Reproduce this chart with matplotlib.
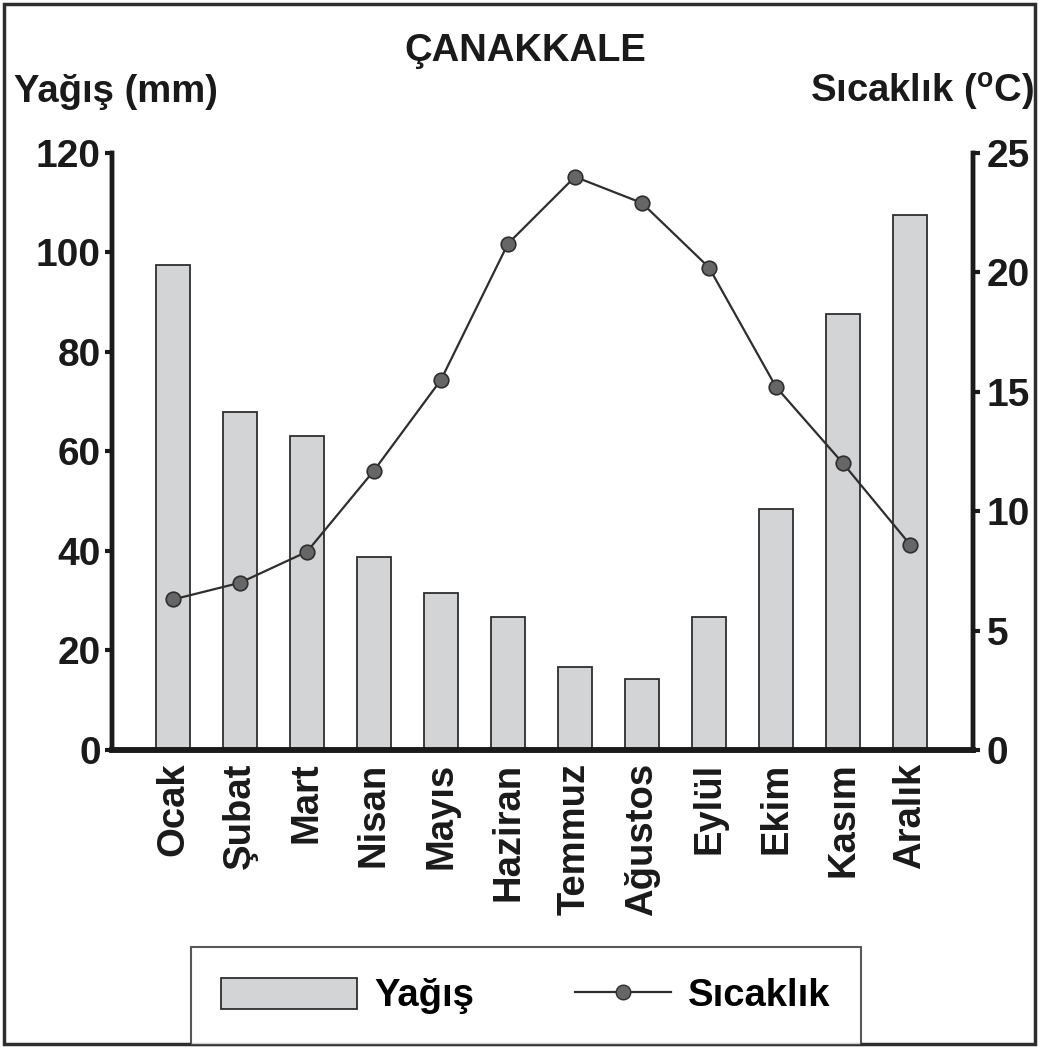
import matplotlib.pyplot as plt
import numpy as np
from matplotlib.patches import Rectangle
from matplotlib.lines import Line2D
from matplotlib.legend_handler import HandlerLine2D

# Data
months = ['Ocak', 'Şubat', 'Mart', 'Nisan', 'Mayıs', 'Haziran',
          'Temmuz', 'Ağustos', 'Eylül', 'Ekim', 'Kasım', 'Aralık']
rain_mm = [97.5, 68.0, 63.2, 38.8, 31.6, 26.7, 16.7, 14.2, 26.7, 48.4, 87.7, 107.5]
temp_c = [6.3, 7.0, 8.3, 11.7, 15.5, 21.2, 24.0, 22.9, 20.2, 15.2, 12.0, 8.6]
rain_ticks = [0, 20, 40, 60, 80, 100, 120]
temp_ticks = [0, 5, 10, 15, 20, 25]

plt.rcParams['font.family'] = ['Liberation Sans', 'DejaVu Sans']
plt.rcParams['font.weight'] = 'bold'
plt.rcParams['mathtext.fontset'] = 'custom'
plt.rcParams['mathtext.rm'] = 'Liberation Sans:bold'

ink = '#1a1a1a'
fs = 27.5
fig = plt.figure(figsize=(10.39, 10.48), dpi=100)
ax = fig.add_axes([0.1078, 0.2844, 0.8287, 0.5697])
ax2 = ax.twinx()

x = np.arange(len(months))
ax.bar(x, rain_mm, width=0.51, color='#d3d4d6', edgecolor='#2e2e2e', linewidth=1.3, zorder=2)
ax2.plot(x, temp_c, color='#2e2e2e', lw=1.6, marker='o', markersize=10.5,
         markerfacecolor='#666666', markeredgecolor='#2e2e2e', markeredgewidth=1.2, zorder=3)

ax.set_xlim(-0.91, 11.94)
ax.set_ylim(0, 120)
ax2.set_ylim(0, 25)
ax.set_yticks(rain_ticks)
ax2.set_yticks(temp_ticks)
ax.set_xticks(x)
ax.set_xticklabels(months, rotation=90, fontsize=fs, color=ink)

for a in (ax, ax2):
    a.spines['top'].set_visible(False)
    a.spines['left'].set_linewidth(3.2)
    a.spines['right'].set_linewidth(3.2)
    a.spines['bottom'].set_linewidth(4)
    for s in a.spines.values():
        s.set_color(ink)
ax.tick_params(axis='y', length=5, width=3, pad=3, labelsize=28, colors=ink)
ax2.tick_params(axis='y', length=5, width=3, pad=5, labelsize=28, colors=ink)
ax.tick_params(axis='x', length=0, pad=9)

fig.text(0.506, 0.951, 'ÇANAKKALE', ha='center', va='center', fontsize=fs, color=ink)
fig.text(0.013, 0.912, 'Yağış (mm)', ha='left', va='center', fontsize=fs, color=ink)
fig.text(0.995, 0.912, 'Sıcaklık ($^{\\mathrm{o}}$C)', ha='right', va='center', fontsize=fs, color=ink)

handles = [Rectangle((0, 0), 1, 1, facecolor='#d3d4d6', edgecolor='#2e2e2e', linewidth=1.3),
           Line2D([], [], color='#2e2e2e', lw=1.6, marker='o', markersize=10.5,
                  markerfacecolor='#666666', markeredgecolor='#2e2e2e')]
leg = fig.legend(handles, ['Yağış', 'Sıcaklık'], loc='lower center', bbox_to_anchor=(0.506, 0.003),
                 ncol=2, fontsize=fs, frameon=True, fancybox=False, handlelength=3.55,
                 handleheight=0.87, handletextpad=0.45, columnspacing=1.6, borderpad=0.8,
                 borderaxespad=0, handler_map={handles[1]: HandlerLine2D(xpad=1.05)})
leg.get_frame().set_edgecolor('#2e2e2e')
leg.get_frame().set_linewidth(1.5)

fig.patches.append(Rectangle((0.004, 0.004), 0.992, 0.992, transform=fig.transFigure,
                             fill=False, edgecolor='#2e2e2e', linewidth=2.5))

fig.savefig('out.png', dpi=100)
